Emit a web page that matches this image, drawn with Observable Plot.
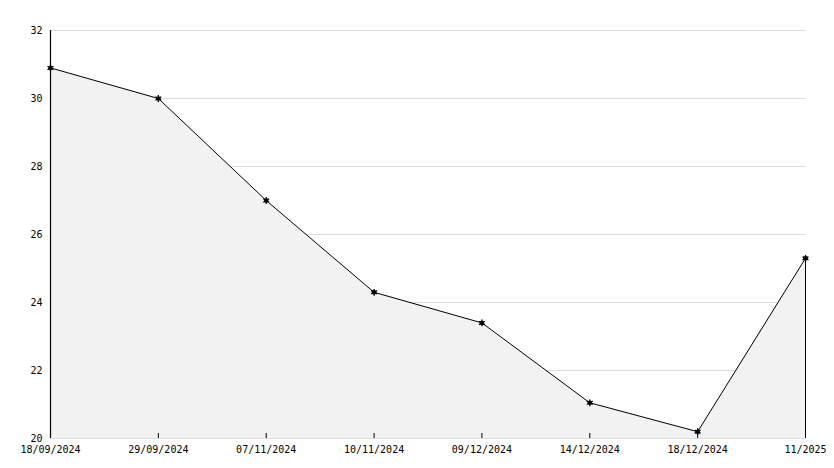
<!DOCTYPE html>
<html>
<head>
<meta charset="utf-8">
<script src="https://cdn.jsdelivr.net/npm/d3@7"></script>
<script src="https://cdn.jsdelivr.net/npm/@observablehq/plot@0.6"></script>
<style>
  html, body { margin: 0; padding: 0; background: #fff; }
</style>
</head>
<body>
<div id="chart"></div>
<script>
const dates = ["18/09/2024", "29/09/2024", "07/11/2024", "10/11/2024", "09/12/2024", "14/12/2024", "18/12/2024", "11/2025"];
const values = [30.9, 30.0, 27.0, 24.3, 23.4, 21.05, 20.2, 25.3];
const yMajorTicks = [20, 22, 24, 26, 28, 30, 32];
const yMinorTicks = [21, 23, 25, 27, 29, 31];

const data = dates.map((d, i) => ({date: d, value: values[i]}));
const first = dates[0];
const last = dates[dates.length - 1];
const yMin = 20, yMax = 32;

const chart = Plot.plot({
  width: 834,
  height: 468,
  marginLeft: 50,
  marginRight: 29,
  marginTop: 30,
  marginBottom: 30,
  style: {fontFamily: "'DejaVu Sans Mono', monospace", fontSize: "10px", background: "#fff", color: "#000"},
  x: {type: "point", domain: dates, padding: 0, round: false, range: [50, 805], label: null},
  y: {domain: [yMin, yMax], range: [438, 30], label: null},
  marks: [
    Plot.gridY(yMajorTicks, {stroke: "#dddddd", strokeOpacity: 1}),
    Plot.areaY(data, {x: "date", y1: yMin, y2: "value", fill: "#f2f2f2", curve: "linear"}),
    Plot.line(data, {x: "date", y: "value", stroke: "#000", strokeWidth: 1}),
    Plot.ruleX([last], {x: d => d, y1: yMin, y2: values[values.length - 1], stroke: "#000", strokeWidth: 1}),
    // axis lines
    Plot.ruleX([first], {x: d => d, y1: yMin, y2: yMax, stroke: "#000", strokeWidth: 1.2}),
    Plot.ruleY([yMin], {y: d => d, x1: first, x2: last, stroke: "#000", strokeWidth: 1.2}),
    // inward y ticks
    Plot.ruleY(yMajorTicks, {y: d => d, x1: first, x2: first, insetRight: -6, stroke: "#000"}),
    Plot.ruleY(yMinorTicks, {y: d => d, x1: first, x2: first, insetRight: -4, stroke: "#000"}),
    // inward x ticks
    Plot.ruleX(dates, {x: d => d, y1: yMin, y2: yMin, insetTop: -5, stroke: "#000"}),
    Plot.axisY(yMajorTicks, {tickSize: 0, tickPadding: 8, fontSize: 10, label: null}),
    Plot.axisX({tickSize: 0, tickPadding: 7, fontSize: 10, label: null}),
    Plot.dot(data, {x: "date", y: "value", r: 2.2, fill: "#000", stroke: null}),
    Plot.dot(data, {x: "date", y: "value", r: 3.2, symbol: "asterisk", stroke: "#000", strokeWidth: 1.3})
  ]
});
document.getElementById("chart").appendChild(chart);
</script>
</body>
</html>
